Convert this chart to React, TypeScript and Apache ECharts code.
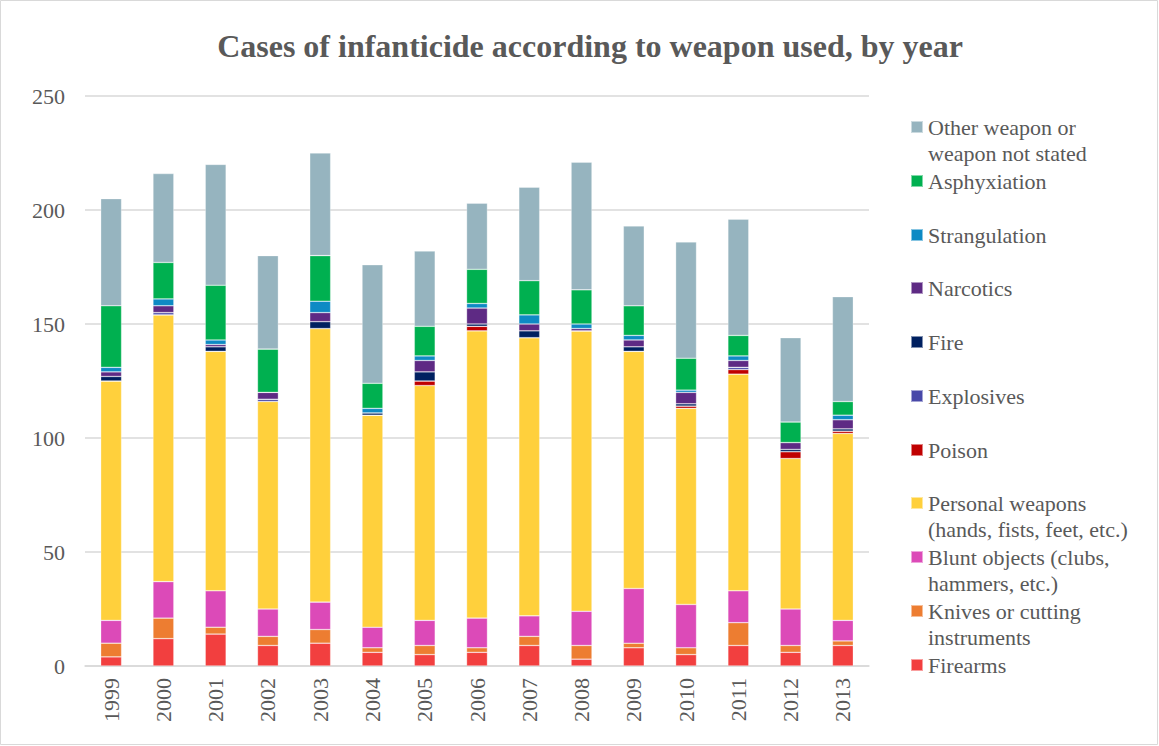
import React, { useEffect, useRef } from "react";
import * as echarts from "echarts";

const years = ["1999","2000","2001","2002","2003","2004","2005","2006","2007","2008","2009","2010","2011","2012","2013"];
const firearms = [4,12,14,9,10,6,5,6,9,3,8,5,9,6,9];
const knives = [6,9,3,4,6,2,4,2,4,6,2,3,10,3,2];
const blunt = [10,16,16,12,12,9,11,13,9,15,24,19,14,16,9];
const personal = [105,117,105,91,120,93,103,126,122,123,104,86,95,66,82];
const poison = [0,0,0,0,0,0,2,2,0,0,0,1,2,3,1];
const explosives = [0,1,0,1,0,0,0,0,0,0,0,0,1,0,0];
const fire = [2,0,2,0,3,1,4,1,3,0,2,1,0,1,1];
const narcotics = [2,3,1,3,4,0,5,7,3,1,3,5,3,3,4];
const strangulation = [2,3,2,0,5,2,2,2,4,2,2,1,2,0,2];
const asphyxiation = [27,16,24,19,20,11,13,15,15,15,13,14,9,9,6];
const other = [47,39,53,41,45,52,33,29,41,56,35,51,51,37,46];
const yTicks = [0, 50, 100, 150, 200, 250];

const seriesDefs = [
  { name: "Firearms", data: firearms, color: "#F23F3F", label: "Firearms" },
  { name: "Knives or cutting instruments", data: knives, color: "#ED7D31", label: "Knives or cutting\ninstruments" },
  { name: "Blunt objects (clubs, hammers, etc.)", data: blunt, color: "#DC4AB8", label: "Blunt objects (clubs,\nhammers, etc.)" },
  { name: "Personal weapons (hands, fists, feet, etc.)", data: personal, color: "#FFD03C", label: "Personal weapons\n(hands, fists, feet, etc.)" },
  { name: "Poison", data: poison, color: "#C00000", label: "Poison" },
  { name: "Explosives", data: explosives, color: "#4848A8", label: "Explosives" },
  { name: "Fire", data: fire, color: "#002060", label: "Fire" },
  { name: "Narcotics", data: narcotics, color: "#5E2A84", label: "Narcotics" },
  { name: "Strangulation", data: strangulation, color: "#0E8AC4", label: "Strangulation" },
  { name: "Asphyxiation", data: asphyxiation, color: "#00B050", label: "Asphyxiation" },
  { name: "Other weapon or weapon not stated", data: other, color: "#96B4BF", label: "Other weapon or\nweapon not stated" },
];

// legend marker centre positions (top to bottom: Other ... Firearms)
const legendCenters = [127, 181, 235, 288, 342, 396, 450, 503, 557, 611, 665];

const FONT = "Liberation Serif";
const TXT = "#595959";

export default function App() {
  const ref = useRef<HTMLDivElement>(null);
  useEffect(() => {
    if (!ref.current) return;
    const chart = echarts.init(ref.current, undefined, { renderer: "svg" });
    const reversed = [...seriesDefs].reverse();
    const legends = reversed.map((s, i) => {
      const twoLine = s.label.includes("\n");
      const c = legendCenters[i];
      return {
        show: true,
        orient: "vertical" as const,
        left: 910,
        top: twoLine ? c - 39 : c - 13,
        padding: 0,
        itemWidth: 12,
        itemHeight: 12,
        icon: "rect",
        selectedMode: false,
        data: [s.name],
        formatter: () => (twoLine ? "\n" + s.label : s.label),
        textStyle: {
          fontFamily: FONT,
          fontSize: 22,
          color: TXT,
          lineHeight: 26,
        },
      };
    });
    chart.setOption({
      animation: false,
      backgroundColor: "#fff",
      title: {
        text: "Cases of infanticide according to weapon used, by year",
        left: 585,
        textAlign: "center",
        top: 25,
        textStyle: { fontFamily: FONT, fontSize: 32, fontWeight: "bold", color: TXT },
      },
      graphic: [
        {
          type: "rect",
          shape: { x: 0.5, y: 0.5, width: 1157, height: 744 },
          style: { fill: "none", stroke: "#D9D9D9", lineWidth: 1 },
          silent: true,
        },
      ],
      legend: legends,
      grid: { left: 85, right: 290, top: 96, bottom: 80, containLabel: false },
      xAxis: {
        type: "category",
        data: years,
        axisLine: { show: true, lineStyle: { color: "#D9D9D9", width: 1.5 } },
        axisTick: { show: false },
        axisLabel: { rotate: 90, fontFamily: FONT, fontSize: 22, color: TXT, margin: 12 },
      },
      yAxis: {
        type: "value",
        min: 0,
        max: 250,
        interval: 50,
        axisLine: { show: false },
        axisTick: { show: false },
        splitLine: { lineStyle: { color: "#D9D9D9", width: 1.5 } },
        axisLabel: {
          fontFamily: FONT,
          fontSize: 22,
          color: TXT,
          margin: 20,
          formatter: (v: number) => (yTicks.includes(v) ? String(v) : ""),
        },
      },
      series: seriesDefs.map((s) => ({
        name: s.name,
        type: "bar",
        stack: "total",
        data: s.data,
        barCategoryGap: "60%",
        itemStyle: { color: s.color, borderColor: "rgba(255,255,255,0.5)", borderWidth: 0.6 },
        emphasis: { disabled: true },
      })),
    });
    return () => chart.dispose();
  }, []);
  return <div ref={ref} style={{ position: "fixed", left: 0, top: 0, width: 1159, height: 746 }} />;
}
